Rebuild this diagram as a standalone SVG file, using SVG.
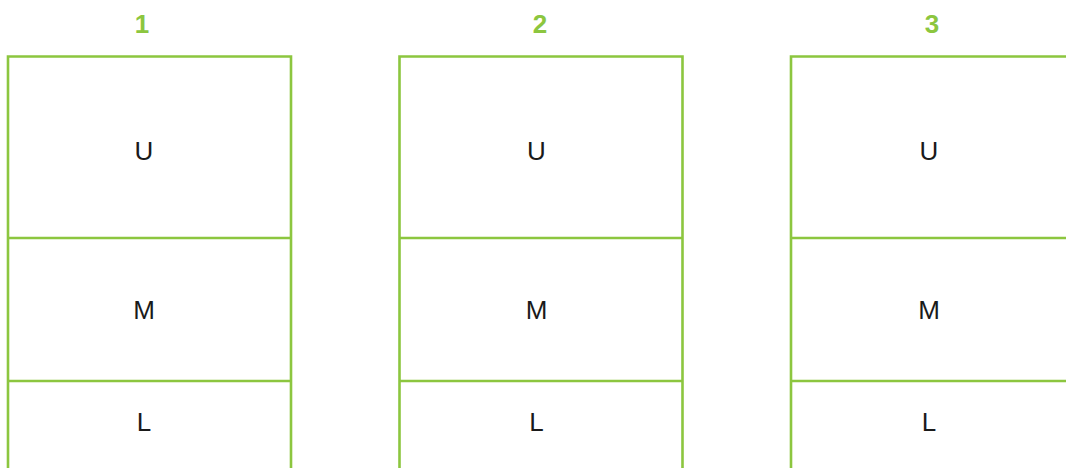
<svg xmlns="http://www.w3.org/2000/svg" width="1066" height="468" viewBox="0 0 1066 468">
  <style>
    .box { fill: none; stroke: #8cc63f; stroke-width: 2.6; }
    .title { font-family: "Liberation Sans", Arial, sans-serif; font-weight: bold; font-size: 26px; fill: #8cc63f; text-anchor: middle; }
    .lbl { font-family: "Liberation Sans", Arial, sans-serif; font-size: 26px; fill: #1a1a1a; text-anchor: middle; }
  </style>
  <rect width="1066" height="468" fill="#ffffff"/>
  <g id="column1">
    <text class="title" x="142" y="33">1</text>
    <path class="box" d="M8,470 V56.5 H291 V470 M8,238 H291 M8,381 H291"/>
    <text class="lbl" x="144" y="160">U</text>
    <text class="lbl" x="144" y="319">M</text>
    <text class="lbl" x="144" y="431">L</text>
  </g>
  <g id="column2">
    <text class="title" x="540" y="33">2</text>
    <path class="box" d="M399.5,470 V56.5 H682.5 V470 M399.5,238 H682.5 M399.5,381 H682.5"/>
    <text class="lbl" x="536.5" y="160">U</text>
    <text class="lbl" x="536.5" y="319">M</text>
    <text class="lbl" x="536.5" y="431">L</text>
  </g>
  <g id="column3">
    <text class="title" x="932" y="33">3</text>
    <path class="box" d="M791,470 V56.5 H1074 V470 M791,238 H1074 M791,381 H1074"/>
    <text class="lbl" x="929" y="160">U</text>
    <text class="lbl" x="929" y="319">M</text>
    <text class="lbl" x="929" y="431">L</text>
  </g>
  <g id="connectors"></g>
</svg>
